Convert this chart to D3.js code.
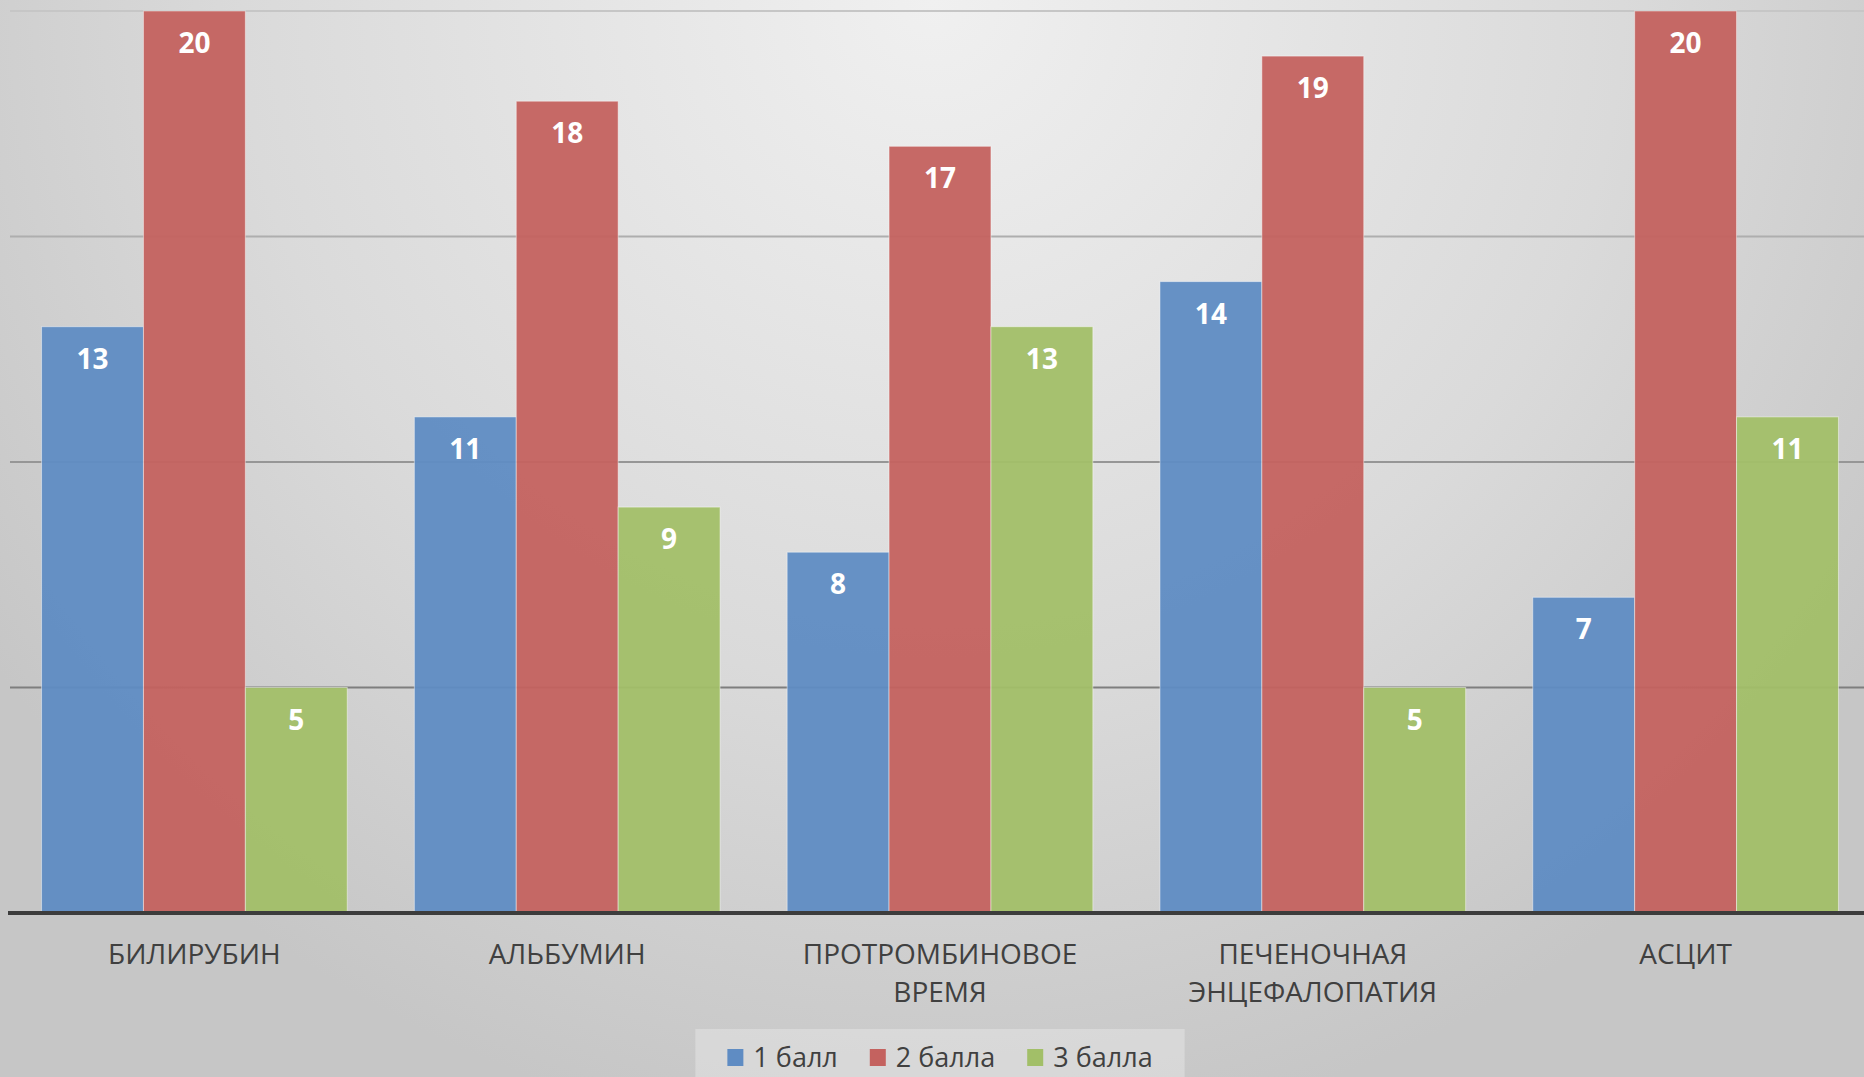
<!DOCTYPE html>
<html>
<head>
<meta charset="utf-8">
<script src="https://cdn.jsdelivr.net/npm/d3@7"></script>
<style>
  html, body { margin: 0; padding: 0; overflow: hidden; }
  svg { display: block; }
  text { font-family: "Open Sans", sans-serif; }
</style>
</head>
<body>
<div id="chart"></div>
<script>
// data
var categories = [["БИЛИРУБИН"], ["АЛЬБУМИН"], ["ПРОТРОМБИНОВОЕ", "ВРЕМЯ"], ["ПЕЧЕНОЧНАЯ", "ЭНЦЕФАЛОПАТИЯ"], ["АСЦИТ"]];
var seriesNames = ["1 балл", "2 балла", "3 балла"];
var ball1 = [13, 11, 8, 14, 7];
var ball2 = [20, 18, 17, 19, 20];
var ball3 = [5, 9, 13, 5, 11];
var yTicks = [0, 5, 10, 15, 20];
var colors = ["#5f8cc3", "#c4625f", "#a2bf68"];

function init(){
	var w = 1864;
	var h = 1077;
	var series = [ball1, ball2, ball3];

	var svg = d3.select("#chart")
				.append("svg")
				.attr("width", w)
				.attr("height", h);

	// background gradient
	var defs = svg.append("defs");
	var grad = defs.append("radialGradient")
		.attr("id", "bg")
		.attr("gradientUnits", "userSpaceOnUse")
		.attr("cx", w/2).attr("cy", 0)
		.attr("r", 1150);
	grad.append("stop").attr("offset", "0%").attr("stop-color", "#f0f0f0");
	grad.append("stop").attr("offset", "60%").attr("stop-color", "#dadada");
	grad.append("stop").attr("offset", "100%").attr("stop-color", "#c6c6c6");

	svg.append("rect")
		.attr("width", w)
		.attr("height", h)
		.attr("fill", "url(#bg)");

	var catIdx = d3.range(categories.length);

	var xScale = d3.scaleBand()
					.domain(catIdx)
					.range([8, 1872])
					.paddingInner(0.18)
					.paddingOuter(0.09);

	var xSub = d3.scaleBand()
					.domain(d3.range(series.length))
					.range([0, xScale.bandwidth()]);

	var yScale = d3.scaleLinear()
					.domain([0, 20])
					.range([913, 11]);

	var gridColor = d3.scaleLinear()
					.domain([20, 5])
					.range(["#c6c6c6", "#7e7e7e"]);

	// gridlines
	svg.selectAll("line.grid")
		.data(yTicks.filter(function(d){ return d > 0; }))
		.enter()
		.append("line")
		.attr("class", "grid")
		.attr("x1", 10)
		.attr("x2", w)
		.attr("y1", function(d){ return yScale(d); })
		.attr("y2", function(d){ return yScale(d); })
		.attr("stroke", function(d){ return gridColor(d); })
		.attr("stroke-width", 2);

	// bars
	var groups = svg.selectAll("g.cat")
		.data(catIdx)
		.enter()
		.append("g")
		.attr("class", "cat")
		.attr("transform", function(i){ return "translate(" + xScale(i) + ",0)"; });

	groups.selectAll("rect")
		.data(function(i){
			return series.map(function(s, k){ return {k: k, v: s[i]}; });
		})
		.enter()
		.append("rect")
		.attr("x", function(d){ return xSub(d.k); })
		.attr("y", function(d){ return yScale(d.v); })
		.attr("width", xSub.bandwidth())
		.attr("height", function(d){ return yScale(0) - yScale(d.v); })
		.attr("fill", function(d){ return colors[d.k]; })
		.attr("fill-opacity", 0.95)
		.attr("stroke", "rgba(255,255,255,0.45)")
		.attr("stroke-width", 1);

	// value labels
	groups.selectAll("text")
		.data(function(i){
			return series.map(function(s, k){ return {k: k, v: s[i]}; });
		})
		.enter()
		.append("text")
		.text(function(d){ return d.v; })
		.attr("x", function(d){ return xSub(d.k) + xSub.bandwidth()/2; })
		.attr("y", function(d){ return yScale(d.v) + 42; })
		.attr("text-anchor", "middle")
		.attr("font-size", "28px")
		.attr("font-weight", "bold")
		.attr("fill", "white");

	// baseline
	svg.append("line")
		.attr("x1", 8)
		.attr("x2", w)
		.attr("y1", yScale(0))
		.attr("y2", yScale(0))
		.attr("stroke", "#3c3c3c")
		.attr("stroke-width", 4);

	// category labels
	var catLabels = svg.selectAll("text.cat")
		.data(catIdx)
		.enter()
		.append("text")
		.attr("class", "cat")
		.attr("text-anchor", "middle")
		.attr("font-size", "28px")
		.attr("fill", "#404040");

	catLabels.selectAll("tspan")
		.data(function(i){ return categories[i].map(function(t){ return {t: t, i: i}; }); })
		.enter()
		.append("tspan")
		.attr("x", function(d){ return xScale(d.i) + xScale.bandwidth()/2; })
		.attr("y", function(d, j){ return 964 + j*38; })
		.text(function(d){ return d.t; });

	// legend
	var legend = svg.append("g");
	var legendBox = legend.append("rect")
		.attr("fill", "#ffffff")
		.attr("fill-opacity", 0.28);

	var items = legend.selectAll("g.item")
		.data(seriesNames)
		.enter()
		.append("g")
		.attr("class", "item");

	items.append("rect")
		.attr("width", 16)
		.attr("height", 17)
		.attr("y", 1049)
		.attr("fill", function(d, i){ return colors[i]; });

	items.append("text")
		.text(function(d){ return d; })
		.attr("x", 26)
		.attr("y", 1067)
		.attr("font-size", "27px")
		.attr("fill", "#404040");

	// lay out legend items centered under plot
	var widths = [];
	items.each(function(){
		widths.push(26 + d3.select(this).select("text").node().getComputedTextLength());
	});
	var gap = 32;
	var total = d3.sum(widths) + gap*(widths.length - 1);
	var start = 940 - total/2;
	var offs = [];
	var acc = start;
	widths.forEach(function(wd){ offs.push(acc); acc += wd + gap; });
	items.attr("transform", function(d, i){ return "translate(" + offs[i] + ",0)"; });

	legendBox
		.attr("x", start - 32)
		.attr("y", 1029)
		.attr("width", total + 64)
		.attr("height", 60);
}

window.onload = init;
</script>
</body>
</html>
